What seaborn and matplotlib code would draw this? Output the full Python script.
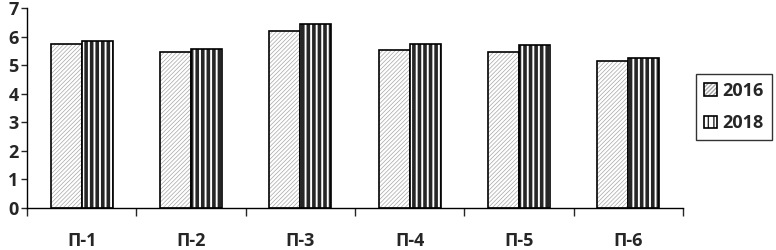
import numpy as np
import pandas as pd
import seaborn as sns
import matplotlib.pyplot as plt
import matplotlib.colors as mcolors

# values
categories = ["П-1", "П-2", "П-3", "П-4", "П-5", "П-6"]
years = ["2016", "2018"]
values_2016 = [5.75, 5.47, 6.2, 5.52, 5.46, 5.15]
values_2018 = [5.85, 5.56, 6.45, 5.75, 5.7, 5.25]
y_ticks = [0, 1, 2, 3, 4, 5, 6, 7]

df = pd.DataFrame({
    "cat": categories * 2,
    "year": [years[0]] * len(categories) + [years[1]] * len(categories),
    "value": values_2016 + values_2018,
})

sns.set_style("white")
plt.rcParams["font.family"] = ["Open Sans", "DejaVu Sans"]
plt.rcParams["font.weight"] = "bold"

fig = plt.figure(figsize=(7.76, 2.5), dpi=100)
ax = fig.add_axes([27 / 776, 42 / 250, 656 / 776, 200 / 250])

sns.barplot(data=df, x="cat", y="value", hue="year", order=categories,
            hue_order=years, width=0.57, ax=ax, saturation=1,
            palette=["white", "white"], edgecolor="black", linewidth=1.2,
            legend=True)

styles = {
    0: dict(hatch="////////", color="#a6a6a6", lw=0.5),
    1: dict(hatch="|||", color="#262626", lw=2.6),
}

def style_patch(p, st):
    p.set_hatch(st["hatch"])
    p._hatch_color = mcolors.to_rgba(st["color"])
    if hasattr(p, "set_hatch_linewidth"):
        p.set_hatch_linewidth(st["lw"])
    else:
        p._hatch_linewidth = st["lw"]

for i, cont in enumerate(ax.containers):
    for p in cont:
        style_patch(p, styles[i])

ax.set_ylim(0, 7)
ax.set_xlim(-0.5, len(categories) - 0.5)
ax.set_yticks(y_ticks)
ax.tick_params(axis="y", length=4, width=1, direction="out", left=True,
               labelsize=13, pad=2)
# boundary ticks without labels, category labels on minor ticks
ax.set_xticks(np.arange(-0.5, len(categories), 1.0))
ax.set_xticklabels([])
ax.set_xticks(np.arange(len(categories)), minor=True)
ax.set_xticklabels(categories, minor=True, fontsize=13, fontweight="bold")
ax.tick_params(axis="x", which="major", length=6, width=1, direction="out",
               bottom=True)
ax.tick_params(axis="x", which="minor", length=0, pad=17)
for lab in ax.get_yticklabels():
    lab.set_fontweight("bold")

ax.set_xlabel("")
ax.set_ylabel("")
sns.despine(ax=ax)
for s in ["left", "bottom"]:
    ax.spines[s].set_color("black")
    ax.spines[s].set_linewidth(1)

ax.get_legend().remove()
handles, labels = ax.get_legend_handles_labels()
for i, h in enumerate(handles):
    style_patch(h, {**styles[i], "lw": styles[i]["lw"] * 0.6})
leg = fig.legend(handles, labels, loc="center left",
                 bbox_to_anchor=(696 / 776, 143 / 250),
                 bbox_transform=fig.transFigure, frameon=True, fancybox=False,
                 edgecolor="black", handlelength=0.7, handleheight=0.7,
                 handletextpad=0.3, labelspacing=0.8, borderpad=0.45,
                 borderaxespad=0, prop={"size": 13, "weight": "bold"})
leg.get_frame().set_linewidth(1)

fig.savefig("out.png", dpi=100)
